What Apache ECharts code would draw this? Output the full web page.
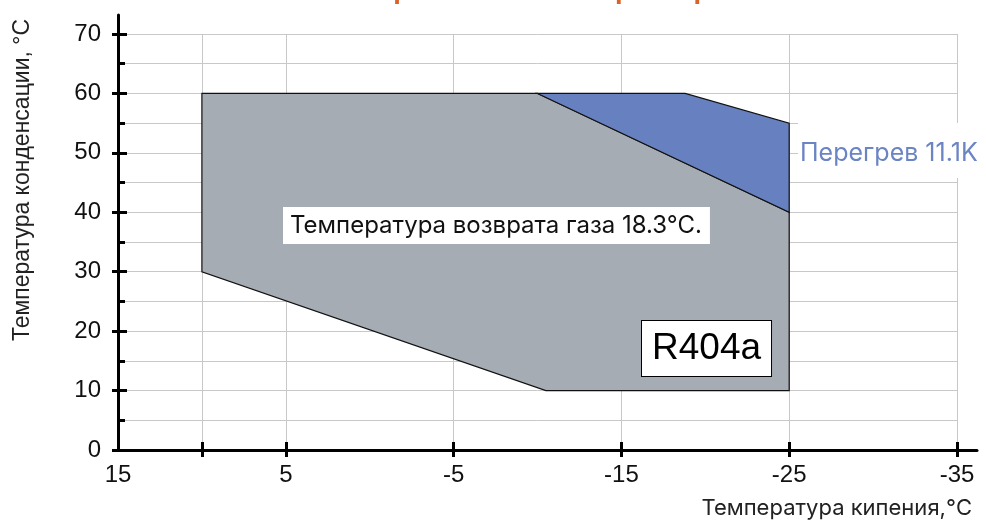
<!DOCTYPE html>
<html>
<head>
<meta charset="utf-8">
<script src="https://cdn.jsdelivr.net/npm/echarts@6/dist/echarts.min.js"></script>
<style>
  html, body { margin: 0; padding: 0; background: #fff; }
  #envelope { width: 986px; height: 521px; }
</style>
</head>
<body>
<div id="envelope"></div>
<script>
// рабочая область компрессора, R404a
var evapTicks = [10, 5, -5, -15, -25, -35];

// серый контур: температура возврата газа 18.3°C
var gasX = [10, -10, -25, -25, -10.5, 10];
var gasY = [60, 60, 40, 10, 10, 30];

// синий контур: перегрев 11.1K
var shX = [-10, -18.8, -25, -25];
var shY = [60, 60, 55, 40];

function zip(xs, ys) {
    return xs.map(function (x, i) { return [x, ys[i]]; });
}

function makeArea(name, xs, ys, fill) {
    var pts = zip(xs, ys);
    return {
        name: name,
        type: 'custom',
        xAxisIndex: 0,
        yAxisIndex: 0,
        data: pts,
        encode: { x: 0, y: 1 },
        silent: true,
        renderItem: function (params, api) {
            if (params.dataIndex !== 0) return;
            var points = pts.map(function (p) { return api.coord(p); });
            return {
                type: 'polygon',
                shape: { points: points },
                style: { fill: fill, stroke: '#111', lineWidth: 1.2 }
            };
        }
    };
}

var chartDom = document.getElementById('envelope');
var myChart = echarts.init(chartDom);
var option;

var labelFont = 'Inter, "Noto Sans", sans-serif';
var axisFont = '"Liberation Sans", Arial, sans-serif';

option = {
    animation: false,
    title: [
        {
            text: 'Область применения компрессора',
            left: 'center',
            top: -27,
            textStyle: { color: '#d9642a', fontSize: 26, fontWeight: 'bold', fontFamily: labelFont }
        },
        {
            text: 'Температура кипения,°C',
            right: 9,
            top: 492,
            textStyle: { color: '#222', fontSize: 22, fontWeight: 'normal', fontFamily: labelFont }
        }
    ],
    grid: [
        { left: 118, right: 29, top: 34, bottom: 71, outerBoundsMode: 'none', containLabel: false },
        { left: 118, right: 9, top: 15, bottom: 71, outerBoundsMode: 'none', containLabel: false }
    ],
    xAxis: [
        {
            type: 'value',
            gridIndex: 0,
            inverse: true,
            min: -35,
            max: 15,
            interval: 10,
            axisLine: { show: false, onZero: false },
            axisTick: {
                show: true, inside: true, length: 8,
                customValues: evapTicks,
                lineStyle: { color: '#000', width: 3 }
            },
            axisLabel: {
                margin: 13, color: '#111', fontSize: 24, fontFamily: axisFont,
                showMinLabel: true, showMaxLabel: true
            },
            splitLine: { show: true, lineStyle: { color: '#c8c8c8', width: 1 } }
        },
        {
            type: 'value',
            gridIndex: 0,
            inverse: true,
            min: -35,
            max: 15,
            interval: 10,
            position: 'bottom',
            axisLine: { show: false, onZero: false },
            axisTick: {
                show: true, inside: false, length: 7,
                customValues: evapTicks,
                lineStyle: { color: '#000', width: 3 }
            },
            axisLabel: { show: false },
            splitLine: { show: false }
        },
        {
            type: 'value',
            gridIndex: 1,
            min: 0,
            max: 1,
            axisLine: { show: true, onZero: false, lineStyle: { color: '#000', width: 3 } },
            axisTick: { show: false },
            axisLabel: { show: false },
            splitLine: { show: false }
        }
    ],
    yAxis: [
        {
            type: 'value',
            gridIndex: 0,
            min: 0,
            max: 70,
            interval: 10,
            name: 'Температура конденсации, °C',
            nameLocation: 'middle',
            nameGap: 84,
            nameTextStyle: {
                color: '#222', fontSize: 23, fontFamily: axisFont,
                padding: [0, 0, 0, 124]
            },
            axisLine: { show: false, onZero: false },
            axisTick: { show: true, inside: true, length: 9, lineStyle: { color: '#000', width: 3 } },
            minorTick: { show: true, splitNumber: 2, length: 7, lineStyle: { color: '#000', width: 3 } },
            axisLabel: { margin: 17, color: '#111', fontSize: 24, fontFamily: axisFont },
            splitLine: { show: true, lineStyle: { color: '#c8c8c8', width: 1 } },
            minorSplitLine: { show: true, lineStyle: { color: '#c8c8c8', width: 1 } }
        },
        {
            type: 'value',
            gridIndex: 0,
            min: 0,
            max: 70,
            interval: 10,
            position: 'left',
            axisLine: { show: false, onZero: false },
            axisTick: { show: true, inside: false, length: 6, lineStyle: { color: '#000', width: 3 } },
            axisLabel: { show: false },
            splitLine: { show: false }
        },
        {
            type: 'value',
            gridIndex: 1,
            min: 0,
            max: 1,
            axisLine: { show: true, onZero: false, lineStyle: { color: '#000', width: 3 } },
            axisTick: { show: false },
            axisLabel: { show: false },
            splitLine: { show: false }
        }
    ],
    series: [
        makeArea('Температура возврата газа 18.3°C.', gasX, gasY, '#a5acb3'),
        makeArea('Перегрев 11.1K', shX, shY, '#6780c0')
    ],
    graphic: [
        {
            type: 'text',
            left: 283,
            top: 207,
            z: 10,
            style: {
                text: 'Температура возврата газа 18.3°C.',
                font: '24px ' + labelFont,
                fill: '#111',
                backgroundColor: '#fff',
                padding: [7, 8, 6, 7]
            }
        },
        {
            type: 'text',
            left: 798,
            top: 123,
            z: 10,
            style: {
                text: 'Перегрев 11.1K',
                font: '25px ' + labelFont,
                fill: '#6b84c4',
                backgroundColor: '#fff',
                padding: [18, 10, 12, 2]
            }
        },
        {
            type: 'text',
            left: 641,
            top: 320,
            z: 10,
            style: {
                text: 'R404a',
                font: '37px ' + axisFont,
                fill: '#000',
                backgroundColor: '#fff',
                borderColor: '#000',
                borderWidth: 1,
                padding: [9, 10, 9, 10]
            }
        }
    ]
};

option && myChart.setOption(option);
</script>
</body>
</html>
